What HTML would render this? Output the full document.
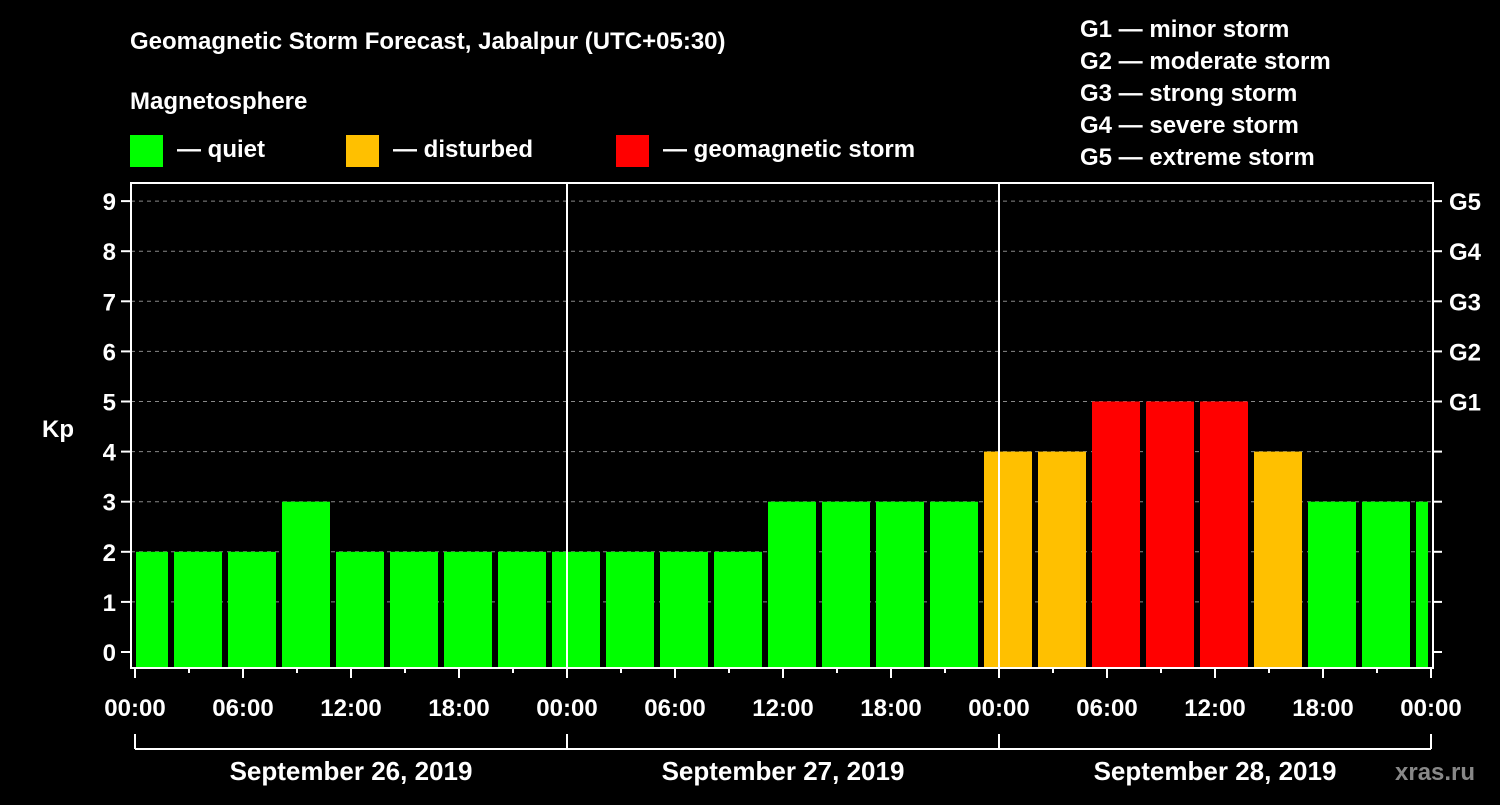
<!DOCTYPE html>
<html><head><meta charset="utf-8"><style>
body{margin:0;background:#000;}
svg text{font-family:"Liberation Sans",sans-serif;font-weight:bold;fill:#fff;}
</style></head><body>
<svg id="chart" width="1500" height="800" xmlns="http://www.w3.org/2000/svg">
<rect width="1500" height="800" fill="#000"/>
<text x="130" y="49" font-size="24">Geomagnetic Storm Forecast, Jabalpur (UTC+05:30)</text>
<text x="130" y="109" font-size="24">Magnetosphere</text>
<g><rect x="130" y="135" width="33" height="32" fill="#00ff00"/><text x="177" y="157" font-size="24">— quiet</text></g>
<g><rect x="346" y="135" width="33" height="32" fill="#ffc000"/><text x="393" y="157" font-size="24">— disturbed</text></g>
<g><rect x="616" y="135" width="33" height="32" fill="#ff0000"/><text x="663" y="157" font-size="24">— geomagnetic storm</text></g>
<g font-size="24">
<text x="1080" y="37">G1 — minor storm</text>
<text x="1080" y="69">G2 — moderate storm</text>
<text x="1080" y="101">G3 — strong storm</text>
<text x="1080" y="133">G4 — severe storm</text>
<text x="1080" y="165">G5 — extreme storm</text>
</g>
<text x="42" y="437" font-size="24">Kp</text>
<g id="grid"></g><g id="bars"></g><g id="axes"></g>
<text x="1395" y="780" font-size="24" fill="#888" style="fill:#888">xras.ru</text>
</svg>
<script>
const kpValues=[2,2,2,3,2,2,2,2,2,2,2,2,3,3,3,3,4,4,5,5,5,4,3,3,3];
const yTicks=[0,1,2,3,4,5,6,7,8,9];
const gLabels=["G1","G2","G3","G4","G5"];
const hourLabels=["00:00","06:00","12:00","18:00"];
const dayLabels=["September 26, 2019","September 27, 2019","September 28, 2019"];
const NS="http://www.w3.org/2000/svg";
const L=131,R=1433,T=183,B=668;
const x0=135,dayW=432;
function y(v){return 652-v*50.1;}
function xh(h){return x0+h*dayW/24;}
function mk(p,tag,a){const e=document.createElementNS(NS,tag);for(const k in a)e.setAttribute(k,a[k]);document.getElementById(p).appendChild(e);return e;}
yTicks.forEach(v=>{
 if(v>0){const g=mk('grid','line',{x1:L,x2:R,y1:y(v),y2:y(v),stroke:'#888','stroke-dasharray':'4,4'});
 
 }
 const t=mk('axes','line',{x1:121,x2:L,y1:y(v),y2:y(v),stroke:'#fff','stroke-width':2});
 
 
 const t2=mk('axes','line',{x1:R,x2:1442,y1:y(v),y2:y(v),stroke:'#fff','stroke-width':2});
 
 
 const l=mk('axes','text',{x:116,y:y(v)+9,'font-size':24,'text-anchor':'end'});
 l.textContent=v;
 
 
});
gLabels.forEach((g,i)=>{
 const l=mk('axes','text',{x:1449,y:y(5+i)+9,'font-size':24});
 l.textContent=g;
 
 
});
kpValues.forEach((v,i)=>{
 let a=xh(i*3)-15,b=a+48;a=Math.max(a,136);b=Math.min(b,1428);
 const c=v>=5?'#ff0000':(v>=4?'#ffc000':'#00ff00');
 const r=mk('bars','rect',{x:a,y:y(v),width:b-a,height:B-y(v),fill:c});
 
 
});
mk('axes','rect',{x:L,y:T,width:R-L,height:B-T,fill:'none',stroke:'#fff','stroke-width':2});
[1,2].forEach(d=>{const s=mk('axes','line',{x1:xh(24*d),x2:xh(24*d),y1:T,y2:B,stroke:'#fff','stroke-width':2});
 
 });
for(let h=0;h<=72;h+=3){
 const t=mk('axes','line',{x1:xh(h),x2:xh(h),y1:B,y2:h%6==0?678:673,stroke:'#fff','stroke-width':2});
 
 
 if(h%6==0){const l=mk('axes','text',{x:xh(h),y:716,'font-size':24,'text-anchor':'middle'});
 l.textContent=hourLabels[(h%24)/6];
 
 }
}
const br=mk('axes','line',{x1:xh(0),x2:xh(72),y1:749,y2:749,stroke:'#fff','stroke-width':2});


for(let d=0;d<=3;d++){const t=mk('axes','line',{x1:xh(24*d),x2:xh(24*d),y1:734,y2:749,stroke:'#fff','stroke-width':2});
 
 }
dayLabels.forEach((s,d)=>{const l=mk('axes','text',{x:xh(24*d+12),y:780,'font-size':26,'text-anchor':'middle'});
 l.textContent=s;
 
 });
</script>
</body></html>
